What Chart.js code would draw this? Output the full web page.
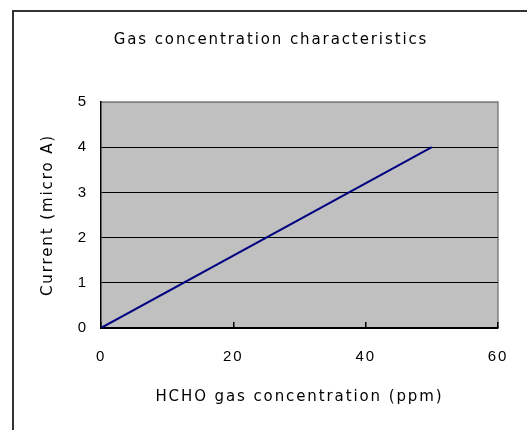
<!DOCTYPE html>
<html>
<head>
<meta charset="utf-8">
<script src="https://cdn.jsdelivr.net/npm/chart.js@4"></script>
<style>
  html, body { margin: 0; padding: 0; background: #fff; }
  #wrap { position: relative; width: 527px; height: 430px; overflow: hidden; }
  #frame { position: absolute; left: 12px; top: 10px; width: 600px; height: 500px;
    border-top: 2px solid #333; border-left: 2px solid #333; }
  #chart { position: absolute; left: 0; top: 0; }
</style>
</head>
<body>
<div id="wrap">
  <div id="frame"></div>
  <canvas id="chart" width="527" height="430"></canvas>
</div>
<script>
// HCHO concentration (ppm) vs sensor current (micro A)
const concentration = [0, 50];
const current = [0, 4];
const xTicks = [0, 20, 40, 60];
const yTicks = [0, 1, 2, 3, 4, 5];

const labelFont = { family: 'DejaVu Sans', size: 15 };
const tickFont = { family: 'Liberation Sans', size: 15 };

// wide-set lettering for all chart text
const spacing = {
  id: 'spacing',
  beforeDraw(chart) { chart.ctx.letterSpacing = '1.9px'; }
};

// grey plot face with a darker top/right edge
const plotFace = {
  id: 'plotFace',
  beforeDraw(chart) {
    const { ctx, chartArea: a } = chart;
    ctx.save();
    ctx.fillStyle = '#c0c0c0';
    ctx.fillRect(a.left, a.top, a.right - a.left, a.bottom - a.top);
    ctx.strokeStyle = '#808080';
    ctx.lineWidth = 1.5;
    ctx.beginPath();
    ctx.moveTo(a.left, a.top);
    ctx.lineTo(a.right, a.top);
    ctx.lineTo(a.right, a.bottom);
    ctx.stroke();
    ctx.restore();
  }
};

new Chart(document.getElementById('chart'), {
  type: 'scatter',
  data: {
    datasets: [{
      data: concentration.map((x, i) => ({ x, y: current[i] })),
      showLine: true,
      borderColor: '#000080',
      borderWidth: 2,
      pointRadius: 0,
      fill: false
    }]
  },
  options: {
    responsive: false,
    animation: false,
    layout: { padding: { left: 44, right: 29, top: 0, bottom: 0 } },
    plugins: {
      legend: { display: false },
      tooltip: { enabled: false },
      title: {
        display: true,
        text: 'Gas concentration characteristics',
        color: '#000',
        font: { family: 'DejaVu Sans', size: 15, weight: 'normal' },
        padding: { top: 31, bottom: 53 }
      }
    },
    scales: {
      x: {
        type: 'linear',
        min: xTicks[0],
        max: xTicks[xTicks.length - 1],
        afterBuildTicks: s => { s.ticks = xTicks.map(v => ({ value: v })); },
        afterFit: s => { s.height = 102; s.paddingLeft = 0; s.paddingRight = 0; },
        ticks: { color: '#000', font: tickFont, padding: 26, maxRotation: 0 },
        grid: { drawOnChartArea: false, drawTicks: true, tickLength: -6, color: '#000', lineWidth: 1.5 },
        border: { color: '#000', width: 1.5 },
        title: { display: true, text: 'HCHO gas concentration (ppm)', color: '#000', font: labelFont, padding: { top: 0, bottom: 24 } }
      },
      y: {
        type: 'linear',
        min: yTicks[0],
        max: yTicks[yTicks.length - 1],
        afterBuildTicks: s => { s.ticks = yTicks.map(v => ({ value: v })); },
        afterFit: s => { s.width = 57; },
        ticks: { color: '#000', font: tickFont, padding: 13 },
        grid: { drawTicks: false, color: c => c.tick && c.tick.value === 5 ? '#808080' : '#000', lineWidth: 1 },
        border: { color: '#000', width: 1.5 },
        title: { display: true, text: 'Current (micro A)', color: '#000', font: labelFont, padding: { top: -5, bottom: 0 } }
      }
    }
  },
  plugins: [spacing, plotFace]
});
</script>
</body>
</html>
